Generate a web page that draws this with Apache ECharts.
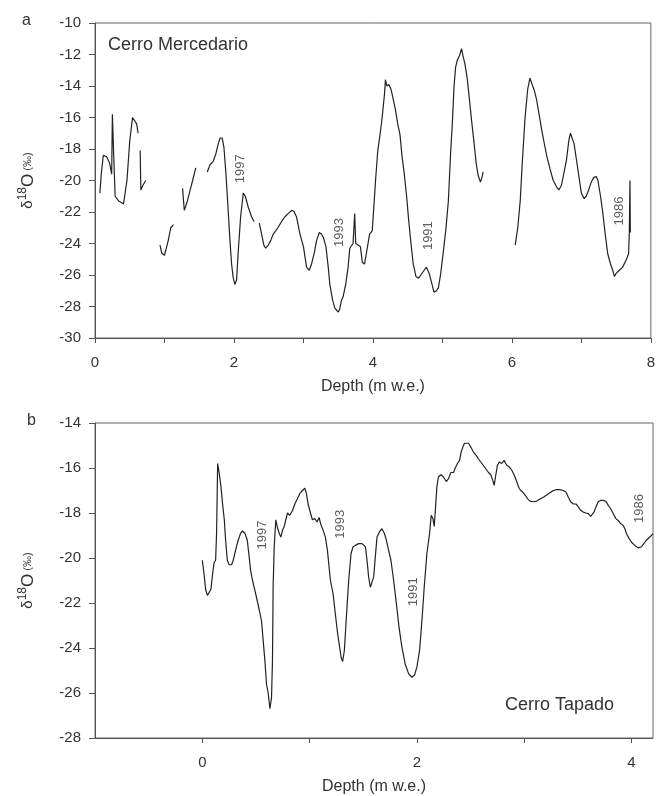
<!DOCTYPE html>
<html><head><meta charset="utf-8">
<script src="https://cdn.jsdelivr.net/npm/echarts@6/dist/echarts.min.js"></script>
<style>html,body{margin:0;padding:0;background:#fff}#c{width:658px;height:796px}</style>
</head><body><div id="c"></div>
<script>
// Panel a: Cerro Mercedario (null = gap in record)
var mercDepth = [0.07,0.09,0.12,0.17,0.21,0.24,0.25,0.27,0.29,0.34,0.38,0.41,0.46,0.50,0.54,0.56,0.60,0.62,0.635,0.65,0.66,0.69,0.73,0.83,
0.935,0.96,1.0,1.055,1.09,1.13,1.2,
1.26,1.285,1.305,1.33,1.37,1.405,1.45,1.53,
1.616,1.655,1.70,1.74,1.775,1.80,1.83,1.856,1.885,1.914,1.942,1.966,1.99,2.014,2.038,2.06,2.096,2.134,2.163,2.206,2.254,2.288,2.33,
2.364,2.398,2.43,2.456,2.494,2.53,2.566,2.60,2.638,2.686,2.734,2.78,2.83,2.863,2.90,2.95,3.0,3.045,3.084,3.117,3.156,3.19,3.228,3.26,3.286,3.324,3.357,3.38,3.42,3.452,3.50,3.52,3.548,3.57,3.61,3.643,3.667,3.69,3.714,3.738,3.752,3.786,3.82,3.848,3.88,3.905,3.952,3.99,4.01,4.038,4.07,4.105,4.133,4.167,4.18,4.20,4.23,4.26,4.286,4.324,4.357,4.39,4.42,4.452,4.486,4.514,4.548,4.58,4.62,4.657,4.69,4.738,4.77,4.81,4.848,4.88,4.914,4.943,4.976,5.01,5.048,5.086,5.12,5.143,5.167,5.19,5.214,5.248,5.276,5.295,5.324,5.357,5.39,5.42,5.452,5.486,5.514,5.548,5.57,5.586,5.8,
6.048,6.086,6.12,6.152,6.19,6.228,6.26,6.286,6.324,6.357,6.39,6.43,6.467,6.505,6.548,6.595,6.643,6.676,6.714,6.752,6.786,6.82,6.843,6.867,6.895,6.93,6.96,7.0,7.04,7.07,7.105,7.143,7.18,7.214,7.238,7.276,7.31,7.343,7.38,7.42,7.452,7.476,7.50,7.548,7.595,7.643,7.68,7.69,7.70,7.705];
var mercD18O = [-20.8,-19.6,-18.4,-18.5,-18.9,-19.6,-15.8,-18.5,-21.0,-21.3,-21.4,-21.5,-20.0,-17.5,-16.0,-15.9,-16.4,-17.0,null,-18.1,-20.6,-20.3,-20.0,null,
-24.1,-24.6,-24.75,-23.8,-23.0,-22.8,null,
-20.5,-21.9,-22.0,-21.3,-20.6,-20.0,-19.2,null,
-19.46,-19.0,-18.8,-18.3,-17.66,-17.3,-17.3,-17.9,-19.6,-21.7,-23.8,-25.3,-26.2,-26.6,-26.3,-24.6,-22.3,-20.8,-21.0,-21.7,-22.3,-22.6,null,
-22.7,-23.4,-24.1,-24.3,-24.1,-23.8,-23.4,-23.2,-22.95,-22.6,-22.3,-22.1,-21.9,-21.95,-22.3,-23.4,-24.2,-25.5,-25.7,-25.3,-24.6,-23.8,-23.3,-23.4,-23.6,-24.2,-25.5,-26.6,-27.6,-28.1,-28.35,-28.2,-27.6,-27.4,-26.55,-25.5,-24.3,-24.3,-24.0,-22.1,-24.0,-24.1,-24.2,-25.2,-25.3,-24.65,-23.4,-23.2,-21.9,-20.0,-18.1,-17.0,-16.0,-14.5,-13.6,-14.0,-13.9,-14.2,-14.7,-15.5,-16.4,-17.1,-18.5,-19.6,-21.05,-22.5,-24.0,-25.3,-26.1,-26.2,-26.0,-25.7,-25.5,-25.9,-26.55,-27.1,-27.0,-26.8,-25.9,-24.65,-23.2,-21.3,-18.1,-16.4,-14.06,-12.8,-12.37,-12.05,-11.63,-12.05,-12.6,-13.5,-14.9,-16.2,-17.45,-18.9,-19.67,-20.1,-19.8,-19.46,null,
-24.1,-22.95,-21.3,-18.7,-16.0,-14.2,-13.5,-13.6,-14.3,-14.9,-15.75,-16.8,-17.66,-18.5,-19.25,-20.0,-20.4,-20.6,-20.3,-19.46,-18.7,-17.45,-17.0,-17.1,-17.66,-18.7,-19.6,-20.8,-21.15,-21.0,-20.6,-20.1,-19.8,-19.75,-20.0,-21.0,-22.1,-23.4,-24.65,-25.3,-25.7,-26.1,-25.9,-25.7,-25.5,-25.07,-24.65,-23.4,-20.0,-23.3];

// Panel b: Cerro Tapado
var tapDepth = [0.0,0.016,0.031,0.047,0.065,0.08,0.096,0.11,0.124,0.133,0.143,0.158,0.174,0.189,0.205,0.217,0.233,0.25,0.273,0.288,0.313,0.335,0.357,0.375,0.397,0.419,0.437,0.45,0.468,0.49,0.512,0.53,0.552,0.567,0.583,0.598,0.614,0.63,0.645,0.654,0.66,0.67,0.685,0.698,0.716,0.732,0.747,0.763,0.778,0.794,0.815,0.84,0.862,0.887,0.908,0.933,0.955,0.97,0.986,1.008,1.026,1.048,1.07,1.088,1.104,1.126,1.147,1.166,1.194,1.219,1.24,1.262,1.28,1.293,1.308,1.324,1.343,1.364,1.386,1.405,1.426,1.457,1.488,1.504,1.52,1.535,1.55,1.566,1.581,1.597,1.612,1.628,1.65,1.674,1.696,1.715,1.736,1.758,1.783,1.808,1.833,1.86,1.89,1.922,1.953,1.978,2.0,2.025,2.047,2.068,2.093,2.118,2.133,2.149,2.161,2.17,2.186,2.2,2.223,2.248,2.273,2.295,2.316,2.341,2.357,2.378,2.397,2.412,2.428,2.443,2.459,2.48,2.502,2.527,2.552,2.574,2.605,2.636,2.667,2.688,2.707,2.72,2.732,2.75,2.769,2.79,2.812,2.822,2.837,2.862,2.884,2.905,2.93,2.952,2.967,2.986,3.008,3.03,3.054,3.085,3.116,3.147,3.178,3.209,3.24,3.271,3.302,3.333,3.364,3.389,3.411,3.433,3.457,3.482,3.504,3.526,3.55,3.575,3.597,3.619,3.637,3.65,3.668,3.69,3.712,3.736,3.761,3.783,3.805,3.83,3.854,3.876,3.898,3.922,3.938,3.953,3.978,4.0,4.031,4.062,4.093,4.114,4.14,4.171,4.2];
var tapD18O = [-20.1,-20.7,-21.4,-21.66,-21.66,-21.4,-20.7,-20.2,-20.1,-18.9,-15.8,-16.25,-16.84,-17.6,-18.3,-19.2,-20.1,-20.3,-20.3,-20.1,-19.6,-19.2,-18.9,-18.8,-18.9,-19.2,-19.96,-20.55,-21.0,-21.44,-21.9,-22.3,-22.8,-23.66,-24.55,-25.6,-26.0,-26.7,-26.2,-24.55,-21.3,-19.5,-18.3,-18.6,-18.9,-19.07,-18.77,-18.6,-18.3,-18.0,-18.1,-17.9,-17.6,-17.36,-17.14,-17.0,-16.9,-17.14,-17.6,-18.0,-18.3,-18.25,-18.4,-18.2,-18.5,-18.77,-19.07,-19.66,-21.0,-21.6,-22.5,-23.4,-23.96,-24.4,-24.6,-24.1,-22.6,-21.0,-19.8,-19.5,-19.44,-19.36,-19.36,-19.3,-19.5,-20.1,-20.84,-21.3,-21.36,-20.84,-19.96,-19.07,-18.84,-18.7,-18.9,-19.2,-19.66,-20.1,-21.0,-22.0,-23.07,-23.96,-24.7,-25.14,-25.3,-25.2,-24.84,-24.1,-22.77,-21.3,-19.8,-18.9,-18.1,-18.25,-18.6,-18.0,-16.84,-16.4,-16.3,-16.4,-16.6,-16.47,-16.2,-16.2,-16.0,-15.8,-15.66,-15.29,-15.07,-14.9,-14.84,-14.9,-15.07,-15.29,-15.44,-15.6,-15.8,-16.0,-16.2,-16.3,-16.55,-16.77,-16.4,-15.88,-15.73,-15.8,-15.66,-15.6,-15.88,-15.96,-16.1,-16.3,-16.6,-16.9,-17.0,-17.07,-17.2,-17.36,-17.47,-17.5,-17.47,-17.38,-17.3,-17.2,-17.1,-17.0,-16.96,-16.96,-17.0,-17.07,-17.3,-17.5,-17.6,-17.6,-17.73,-17.88,-17.96,-18.0,-18.03,-18.15,-18.18,-17.96,-17.73,-17.5,-17.44,-17.44,-17.48,-17.66,-17.8,-18.03,-18.25,-18.33,-18.47,-18.55,-18.7,-18.92,-19.14,-19.3,-19.44,-19.55,-19.5,-19.36,-19.2,-19.07,-18.92];

// Year annotations
var mercYears = ['1997','1993','1991','1986'];
var mercYearDepth = [2.096,3.524,4.80,7.548];
var mercYearD18O = [-19.25,-23.3,-23.5,-21.94];
var tapYears = ['1997','1993','1991','1986'];
var tapYearDepth = [0.56,1.287,1.963,4.077];
var tapYearD18O = [-18.98,-18.5,-21.5,-17.8];

var FONT = '"Liberation Sans", Arial, sans-serif';
function pairs(xs, ys){ return xs.map(function(x,i){ return [x, ys[i] === null ? '-' : ys[i]]; }); }
function labelPts(xs, ys, ts){ return xs.map(function(x,i){ return {value:[x, ys[i]], name: ts[i]}; }); }

var axisLineStyle = {color:'#555', width:1};
function yAxisDef(idx, min, max){
  return {type:'value', gridIndex: idx, min:min, max:max, interval:2,
    name:'{d|δ}{s|18}{o|O}{p| (‰)}', nameLocation:'middle', nameRotate:90, nameGap:56,
    nameTextStyle:{rich:{
      d:{fontFamily:FONT, fontSize:15, color:'#333', lineHeight:22},
      s:{fontFamily:FONT, fontSize:12, color:'#333', lineHeight:12, verticalAlign:'top'},
      o:{fontFamily:FONT, fontSize:17, color:'#333', lineHeight:22},
      p:{fontFamily:FONT, fontSize:11, color:'#333', lineHeight:22}
    }},
    axisLine:{show:true, onZero:false, lineStyle:axisLineStyle},
    axisTick:{show:true, length:6, lineStyle:axisLineStyle},
    axisLabel:{fontFamily:FONT, fontSize:15, color:'#333', margin:14},
    splitLine:{show:false}};
}
function xAxisDef(idx, min, max){
  return {type:'value', gridIndex: idx, min:min, max:max, interval:1,
    name:'Depth (m w.e.)', nameLocation:'middle', nameGap:41,
    nameTextStyle:{fontFamily:FONT, fontSize:16, color:'#333'},
    axisLine:{show:true, onZero:false, lineStyle:axisLineStyle},
    axisTick:{show:true, length:5, lineStyle:axisLineStyle},
    axisLabel:{fontFamily:FONT, fontSize:15, color:'#333', margin:17,
      showMaxLabel: max % 2 === 0, showMinLabel: min % 2 === 0,
      formatter:function(v){ return (Math.abs(v % 2) < 1e-9) ? String(v) : ''; }},
    splitLine:{show:false}};
}
var yearLabel = {show:true, rotate:90, position:'inside', formatter:'{b}', fontFamily:FONT, fontSize:13, color:'#333'};

var chart = echarts.init(document.getElementById('c'));
chart.setOption({
  backgroundColor:'#fff',
  animation:false,
  grid:[
    {left:95, right:5, top:23, height:315, show:true, borderColor:'#666', borderWidth:1, backgroundColor:'transparent'},
    {left:95, right:5, top:423, height:315, show:true, borderColor:'#666', borderWidth:1, backgroundColor:'transparent'}
  ],
  xAxis:[xAxisDef(0, 0, 8), xAxisDef(1, -1, 4.2)],
  yAxis:[yAxisDef(0, -30, -10), yAxisDef(1, -28, -14)],
  series:[
    {type:'line', xAxisIndex:0, yAxisIndex:0, data:pairs(mercDepth, mercD18O), showSymbol:false, symbol:'none', connectNulls:false,
      lineStyle:{color:'#222', width:1.2}},
    {type:'line', xAxisIndex:1, yAxisIndex:1, data:pairs(tapDepth, tapD18O), showSymbol:false, symbol:'none',
      lineStyle:{color:'#222', width:1.2}},
    {type:'scatter', xAxisIndex:0, yAxisIndex:0, symbolSize:0, data:labelPts(mercYearDepth, mercYearD18O, mercYears), label:yearLabel},
    {type:'scatter', xAxisIndex:1, yAxisIndex:1, symbolSize:0, data:labelPts(tapYearDepth, tapYearD18O, tapYears), label:yearLabel}
  ],
  graphic:[
    {type:'text', left:22, top:13, style:{text:'a', font:'16px '+FONT, fill:'#333'}},
    {type:'text', left:27, top:413, style:{text:'b', font:'16px '+FONT, fill:'#333'}},
    {type:'text', left:108, top:36, style:{text:'Cerro Mercedario', font:'18px '+FONT, fill:'#333'}},
    {type:'text', left:505, top:696, style:{text:'Cerro Tapado', font:'18px '+FONT, fill:'#333'}}
  ]
});
</script></body></html>
